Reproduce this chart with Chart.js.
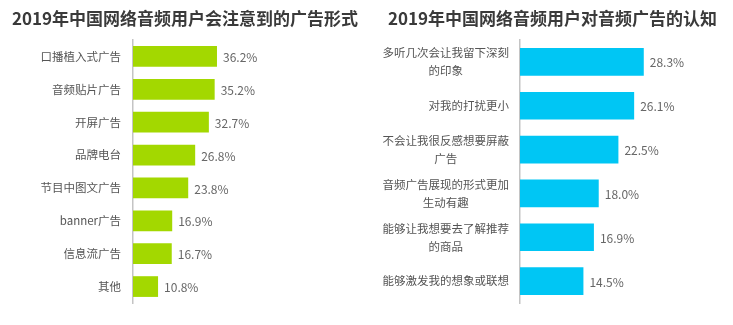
<!DOCTYPE html>
<html>
<head>
<meta charset="utf-8">
<script src="https://cdn.jsdelivr.net/npm/chart.js@4.4.1/dist/chart.umd.min.js"></script>
<style>
  html, body { margin: 0; padding: 0; background: #ffffff; }
  #wrap { position: relative; width: 733px; height: 325px; }
  .box { position: absolute; top: 0; height: 325px; }
  #b1 { left: 0; width: 366px; }
  #b2 { left: 366px; width: 367px; }
</style>
</head>
<body>
<div id="wrap">
  <div class="box" id="b1"><canvas id="c1"></canvas></div>
  <div class="box" id="b2"><canvas id="c2"></canvas></div>
</div>
<script>
// ---- Data ----
const leftTitle = '2019年中国网络音频用户会注意到的广告形式';
const leftCategories = ['口播植入式广告', '音频贴片广告', '开屏广告', '品牌电台', '节目中图文广告', 'banner广告', '信息流广告', '其他'];
const leftValues = [36.2, 35.2, 32.7, 26.8, 23.8, 16.9, 16.7, 10.8];

const rightTitle = '2019年中国网络音频用户对音频广告的认知';
const rightCategories = [
  ['多听几次会让我留下深刻', '的印象'],
  ['对我的打扰更小'],
  ['不会让我很反感想要屏蔽', '广告'],
  ['音频广告展现的形式更加', '生动有趣'],
  ['能够让我想要去了解推荐', '的商品'],
  ['能够激发我的想象或联想']
];
const rightValues = [28.3, 26.1, 22.5, 18.0, 16.9, 14.5];

const FONT = "'Noto Sans CJK SC', 'Noto Sans', sans-serif";

// Draws value labels at bar ends and per-label centered multi-line category labels
const labelPlugin = {
  id: 'labelPlugin',
  afterDatasetsDraw(chart, args, opts) {
    const ctx = chart.ctx;
    const meta = chart.getDatasetMeta(0);
    const ds = chart.data.datasets[0];
    const yScale = chart.scales.y;
    ctx.save();
    // value labels
    ctx.font = '12px ' + FONT;
    ctx.fillStyle = '#666666';
    ctx.textAlign = 'left';
    ctx.textBaseline = 'middle';
    meta.data.forEach((bar, i) => {
      ctx.fillText(ds.data[i].toFixed(1) + '%', bar.x + 6, bar.y + 1);
    });
    // category labels
    ctx.font = '11.5px ' + FONT;
    ctx.fillStyle = '#555555';
    ctx.textBaseline = 'middle';
    ctx.textAlign = 'center';
    const right = yScale.right - opts.gap;
    const lh = opts.lineHeight;
    chart.data.labels.forEach((lab, i) => {
      const lines = Array.isArray(lab) ? lab : [lab];
      const widest = Math.max(...lines.map(l => ctx.measureText(l).width));
      const cx = right - widest / 2;
      const cy = yScale.getPixelForTick(i);
      const top = cy - (lines.length - 1) * lh / 2;
      lines.forEach((l, k) => ctx.fillText(l, cx, top + k * lh));
    });
    ctx.restore();
  }
};

function makeChart(id, title, cats, vals, color, cfg) {
  return new Chart(document.getElementById(id), {
    type: 'bar',
    data: {
      labels: cats,
      datasets: [{
        data: vals,
        backgroundColor: color,
        borderWidth: 0,
        barPercentage: 0.63,
        categoryPercentage: 1.0
      }]
    },
    plugins: [labelPlugin],
    options: {
      indexAxis: 'y',
      responsive: true,
      maintainAspectRatio: false,
      animation: false,
      events: [],
      layout: { padding: { left: cfg.padLeft, right: cfg.padRight, top: 0, bottom: 22 } },
      plugins: {
        legend: { display: false },
        tooltip: { enabled: false },
        title: {
          display: true,
          text: title,
          align: 'start',
          color: '#3a3a3a',
          font: { family: FONT, size: 17, weight: 'bold', lineHeight: 1.2 },
          padding: { top: 8, bottom: 11.6 }
        },
        labelPlugin: { gap: cfg.gap, lineHeight: 18 }
      },
      scales: {
        x: {
          display: false,
          min: 0,
          max: cfg.max
        },
        y: {
          afterFit(scale) { scale.width = cfg.axisWidth; },
          grid: { display: false, drawTicks: false },
          border: { display: true, color: '#c4c4c4', width: 1.5 },
          ticks: { display: false }
        }
      }
    }
  });
}

makeChart('c1', leftTitle, leftCategories, leftValues, '#a3d800',
  { padLeft: 12, padRight: 1, axisWidth: 121, max: 100, gap: 12 });
makeChart('c2', rightTitle, rightCategories, rightValues, '#00c6f4',
  { padLeft: 22, padRight: 0, axisWidth: 132, max: 48.7, gap: 11 });
</script>
</body>
</html>
